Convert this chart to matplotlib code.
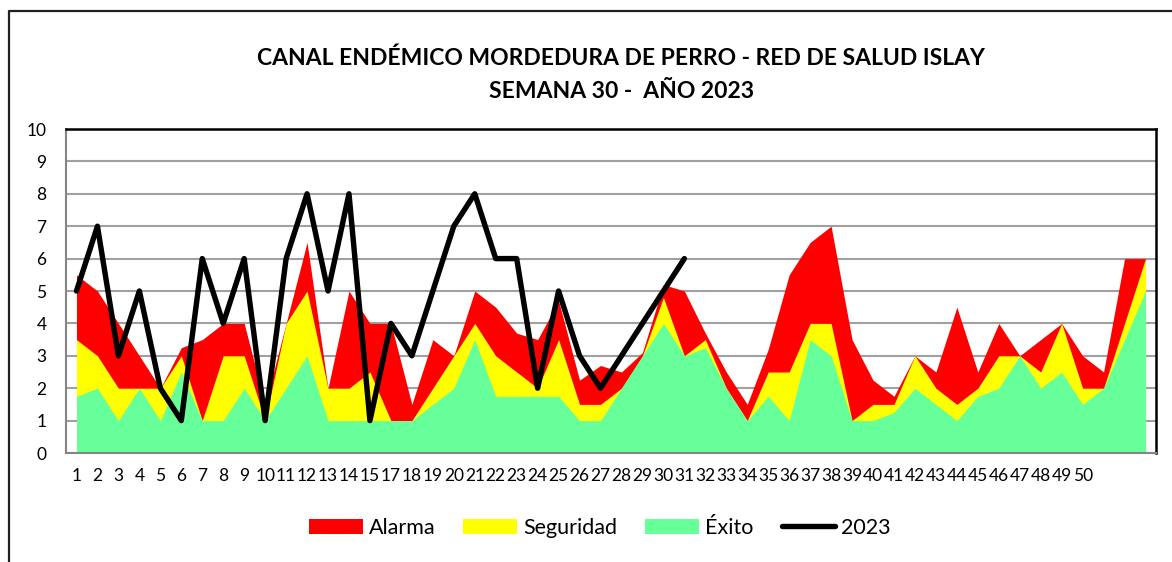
import numpy as np
import matplotlib
matplotlib.use("Agg")
from matplotlib import pyplot as plt
from matplotlib.lines import Line2D

# Semanas epidemiologicas (52 categorias en el eje)
semanas = np.arange(1, 53)
# etiquetas tal como aparecen en el grafico original (falta el 16)
etiquetas = [str(n) for n in range(1, 16)] + [str(n) for n in range(17, 51)] + ["", "", ""]

# limites del canal endemico
alarma = [5.5, 5.0, 4.0, 3.0, 2.0, 3.25, 3.5, 4.0, 4.0, 1.5,
          4.0, 6.5, 2.0, 5.0, 4.0, 4.0, 1.5, 3.5, 3.0, 5.0,
          4.5, 3.7, 3.5, 4.7, 2.25, 2.7, 2.5, 3.1, 5.2, 5.0,
          3.7, 2.5, 1.5, 3.2, 5.5, 6.5, 7.0, 3.5, 2.25, 1.75,
          3.0, 2.5, 4.5, 2.5, 4.0, 3.0, 3.5, 4.0, 3.0, 2.5,
          6.0, 6.0]
seguridad = [3.5, 3.0, 2.0, 2.0, 2.0, 3.0, 1.0, 3.0, 3.0, 1.0,
             4.0, 5.0, 2.0, 2.0, 2.5, 1.0, 1.0, 2.0, 3.0, 4.0,
             3.0, 2.5, 2.0, 3.5, 1.5, 1.5, 2.0, 3.0, 4.8, 3.0,
             3.5, 2.0, 1.0, 2.5, 2.5, 4.0, 4.0, 1.0, 1.5, 1.5,
             3.0, 2.0, 1.5, 2.0, 3.0, 3.0, 2.5, 4.0, 2.0, 2.0,
             4.0, 6.0]
exito = [1.75, 2.0, 1.0, 2.0, 1.0, 2.5, 1.0, 1.0, 2.0, 1.0,
         2.0, 3.0, 1.0, 1.0, 1.0, 1.0, 1.0, 1.5, 2.0, 3.5,
         1.75, 1.75, 1.75, 1.75, 1.0, 1.0, 2.0, 3.0, 4.0, 3.0,
         3.25, 2.0, 1.0, 1.75, 1.0, 3.5, 3.0, 1.0, 1.0, 1.25,
         2.0, 1.5, 1.0, 1.75, 2.0, 3.0, 2.0, 2.5, 1.5, 2.0,
         3.5, 5.0]

# casos 2023 hasta la semana 30
casos_2023 = [5, 7, 3, 5, 2, 1, 6, 4, 6, 1,
              6, 8, 5, 8, 1, 4, 3, 5, 7, 8,
              6, 6, 2, 5, 3, 2, 3, 4, 5, 6]

plt.rcParams["font.family"] = ["Lato", "DejaVu Sans"]

fig = plt.figure(figsize=(11.72, 5.62), dpi=100)
ax = fig.add_axes([66 / 1172, 1 - 453 / 562, 1090 / 1172, 324 / 562])

# areas superpuestas (rojo atras, verde adelante)
ax.fill_between(semanas, 0, alarma, color="#FF0000", lw=0, label="Alarma")
ax.fill_between(semanas, 0, seguridad, color="#FFFF00", lw=0, label="Seguridad")
ax.fill_between(semanas, 0, exito, color="#66FF99", lw=0, label="Éxito")

ax.plot(semanas[:len(casos_2023)], casos_2023, color="black", linewidth=3.9,
        solid_joinstyle="round", solid_capstyle="round", label="2023")

ax.set_xlim(0.5, 52.5)
ax.set_ylim(0, 10)
ax.set_xticks(semanas)
ax.set_xticklabels(etiquetas)
ax.set_yticks(range(0, 11))
ax.tick_params(axis="both", length=0, labelsize=12.5)
ax.tick_params(axis="y", pad=14)
ax.tick_params(axis="x", pad=11)

ax.set_axisbelow(True)
ax.yaxis.grid(True, color="#A0A0A0", linewidth=1.5)

for s in ["left", "bottom"]:
    ax.spines[s].set_color("#858585")
    ax.spines[s].set_linewidth(1.5)
for s in ["top", "right"]:
    ax.spines[s].set_color("black")
    ax.spines[s].set_linewidth(1.8)

fig.text(0.53, 1 - 58 / 562, "CANAL ENDÉMICO MORDEDURA DE PERRO - RED DE SALUD ISLAY",
         ha="center", va="center", fontsize=16.5, fontweight="bold")
fig.text(0.53, 1 - 92 / 562, "SEMANA 30 -  AÑO 2023",
         ha="center", va="center", fontsize=16.5, fontweight="bold")

# marco exterior del grafico
fig.add_artist(Line2D([9 / 1172, 9 / 1172, 1.01], [-0.01, 1 - 11 / 562, 1 - 11 / 562],
                      transform=fig.transFigure, color="#202020", linewidth=1.6))

fig.legend(loc="center", bbox_to_anchor=(600 / 1172, 1 - 528 / 562), ncol=4,
           frameon=False, fontsize=15.5, handlelength=2.5, handletextpad=0.28,
           columnspacing=1.3)

fig.savefig("out.png", dpi=100)
